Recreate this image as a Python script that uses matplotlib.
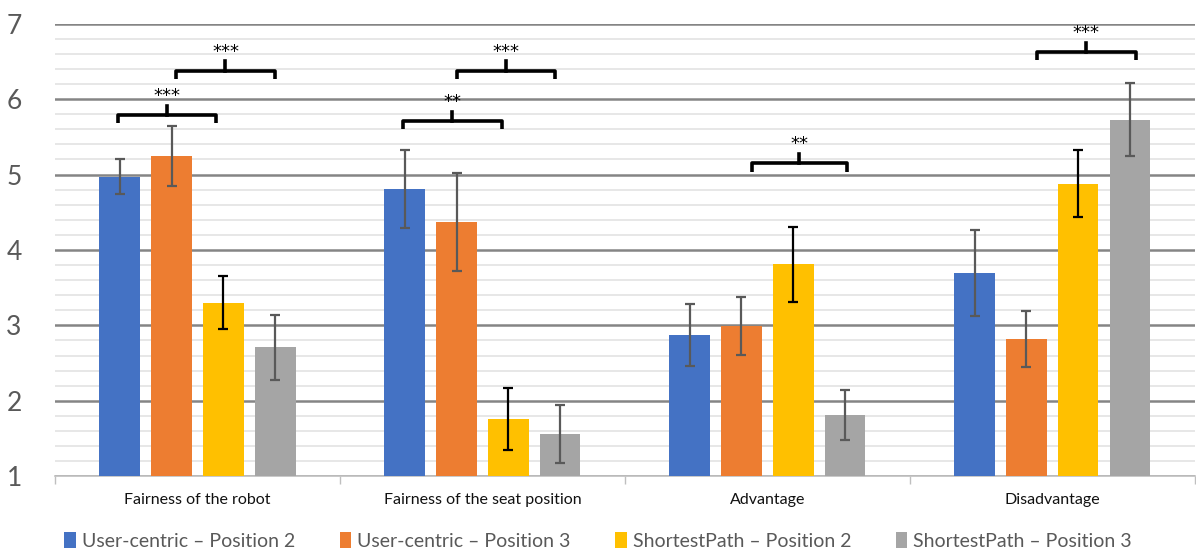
import numpy as np
import matplotlib.pyplot as plt
from matplotlib.ticker import MultipleLocator

plt.rcParams['font.family'] = ['Lato', 'DejaVu Sans']

categories = ['Fairness of the robot', 'Fairness of the seat position', 'Advantage', 'Disadvantage']
series = ['User-centric \u2013 Position 2', 'User-centric \u2013 Position 3',
          'ShortestPath \u2013 Position 2', 'ShortestPath \u2013 Position 3']
colors = ['#4472C4', '#ED7D31', '#FFC000', '#A5A5A5']
err_colors = ['#595959', '#595959', '#000000', '#595959']

uc_pos2 = [4.97, 4.81, 2.87, 3.69]
uc_pos3 = [5.25, 4.37, 2.99, 2.82]
sp_pos2 = [3.30, 1.76, 3.81, 4.88]
sp_pos3 = [2.71, 1.56, 1.81, 5.73]

uc_pos2_err = [0.23, 0.52, 0.41, 0.57]
uc_pos3_err = [0.40, 0.65, 0.38, 0.37]
sp_pos2_err = [0.35, 0.41, 0.50, 0.44]
sp_pos3_err = [0.43, 0.39, 0.33, 0.49]

# significance brackets: (group, start bar, end bar, height, label)
brackets = [
    (0, -0.03, 1.86, 5.79, '***'),
    (0, 1.08, 3.00, 6.38, '***'),
    (1, -0.04, 1.88, 5.71, '**'),
    (1, 1.00, 2.89, 6.38, '***'),
    (2, 1.20, 3.03, 5.15, '**'),
    (3, 1.20, 3.11, 6.63, '***'),
]

values = [uc_pos2, uc_pos3, sp_pos2, sp_pos3]
errors = [uc_pos2_err, uc_pos3_err, sp_pos2_err, sp_pos3_err]

fig = plt.figure(figsize=(11.96, 5.53), dpi=100)
ax = fig.add_axes([0.046, 0.139, 0.953, 0.818])

x = np.arange(len(categories))
step = 0.182
width = 0.142

for i in range(4):
    pos = x + (i - 1.5) * step
    ax.bar(pos, np.array(values[i]) - 1, width, bottom=1, color=colors[i],
           label=series[i], zorder=3)
    ax.errorbar(pos, values[i], yerr=errors[i], fmt='none', ecolor=err_colors[i],
                elinewidth=1.6, capsize=3.8, capthick=1.6, zorder=4)

d = 0.11
for g, a, b, h, lab in brackets:
    x0 = g + (a - 1.5) * step
    x1 = g + (b - 1.5) * step
    xm = (x0 + x1) / 2
    ax.plot([x0, x0, x1, x1], [h - d, h, h, h - d], color='black', lw=2.6,
            solid_joinstyle='round', solid_capstyle='butt', zorder=5)
    ax.plot([xm, xm], [h, h + 0.12], color='black', lw=2.6, zorder=5)
    ax.text(xm, h + 0.13, lab, ha='center', va='bottom', fontsize=13,
            color='black', family='DejaVu Sans')

ax.set_xlim(-0.5, 3.5)
ax.set_ylim(1, 7)
ax.yaxis.set_major_locator(MultipleLocator(1))
ax.yaxis.set_minor_locator(MultipleLocator(0.2))
ax.grid(axis='y', which='major', color='#858585', lw=1.8, zorder=1)
ax.grid(axis='y', which='minor', color='#e3e3e3', lw=1.2, zorder=0)

ax.set_xticks(np.arange(-0.5, 4.0, 1.0))
ax.set_xticklabels([])
ax.set_xticks(x, minor=True)
ax.set_xticklabels(categories, minor=True, fontsize=11.5, color='#111111')
ax.tick_params(axis='x', which='major', length=6, color='#bfbfbf', width=1)
ax.tick_params(axis='x', which='minor', length=0, pad=12)
ax.tick_params(axis='y', which='both', length=0, pad=24, labelsize=19, labelcolor='#595959')

for s in ['top', 'right', 'left']:
    ax.spines[s].set_visible(False)
ax.spines['bottom'].set_color('#bfbfbf')
ax.spines['bottom'].set_linewidth(1.2)

fig.legend(loc='center', bbox_to_anchor=(0.5, 0.022), ncol=4, frameon=False,
           fontsize=14, handlelength=0.6, handleheight=0.9, handletextpad=0.3,
           columnspacing=2.3, labelcolor='#595959')

fig.savefig('out.png', dpi=100)
